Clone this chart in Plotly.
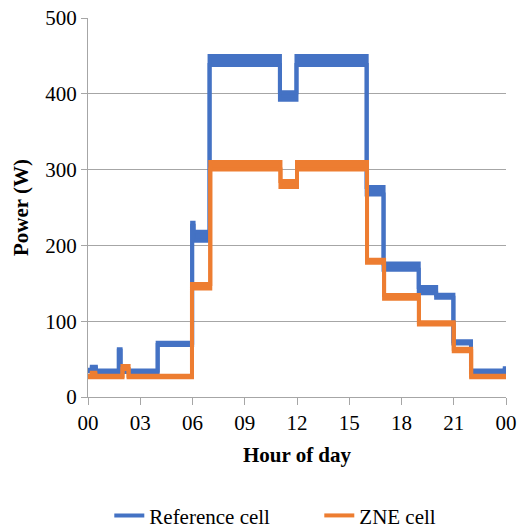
import plotly.graph_objects as go

# Reference cell: segment start hour, level (W), half-range of noise band (W)
ref_start = [0.00, 0.22, 0.45, 1.77, 1.87, 4.00, 5.98, 6.06, 6.98, 11.02, 11.97, 16.00, 16.97, 18.99, 19.99, 20.98, 21.99, 23.93, 24.0]
ref_level = [35, 39, 34, 62, 34, 70, 228, 212, 444, 397, 444, 272, 172, 141, 133, 72, 34, 37, 37]
ref_amp   = [1, 1, 1, 1, 1, 1.5, 2, 6, 6, 5, 6, 5, 4, 4, 2, 1.5, 1, 1, 1]

# ZNE cell
zne_start = [0.00, 0.22, 0.42, 1.98, 2.33, 5.97, 7.02, 11.05, 12.00, 16.02, 17.00, 19.00, 21.00, 22.00, 24.0]
zne_level = [27, 31, 27, 39, 27, 146, 305, 281, 305, 179, 132, 97, 62, 27, 27]
zne_amp   = [1, 1, 1, 2, 1, 3, 5, 4, 5, 2, 2.5, 1.5, 1.5, 1, 1]

x_tickvals = [0, 3, 6, 9, 12, 15, 18, 21, 24]
x_ticktext = ["00", "03", "06", "09", "12", "15", "18", "21", "00"]
y_tickvals = [0, 100, 200, 300, 400, 500]

series = [
    ("Reference cell", "#4472C4", ref_start, ref_level, ref_amp),
    ("ZNE cell", "#ED7D31", zne_start, zne_level, zne_amp),
]

fig = go.Figure()
for name, color, xs, lv, amp in series:
    lower = [l - a for l, a in zip(lv, amp)]
    upper = [l + a for l, a in zip(lv, amp)]
    fig.add_trace(go.Scatter(x=xs, y=lower, mode="lines", name=name,
                             line=dict(color=color, width=4, shape="hv"),
                             showlegend=True))
    fig.add_trace(go.Scatter(x=xs, y=upper, mode="lines", name=name,
                             line=dict(color=color, width=4, shape="hv"),
                             fill="tonexty", fillcolor=color, showlegend=False))

FONT = "Times New Roman, Liberation Serif, serif"
tf = dict(family=FONT, size=21, color="black")
fig.update_layout(
    width=518, height=529,
    margin=dict(l=88, r=12, t=18, b=132),
    paper_bgcolor="white", plot_bgcolor="white",
    font=tf,
    showlegend=True,
    legend=dict(orientation="h", xref="container", x=0.211, xanchor="left",
                yref="container", y=0.025, yanchor="middle",
                font=tf, traceorder="normal", entrywidth=165, entrywidthmode="pixels"),
    xaxis=dict(range=[0, 24], tickvals=x_tickvals, ticktext=x_ticktext,
               tickfont=tf, automargin=False,
               showgrid=False, showline=True, linecolor="#A6A6A6", linewidth=1.3,
               ticks="outside", ticklen=7, tickcolor="#A6A6A6", tickwidth=1.3,
               zeroline=False,
               title=dict(text="<b>Hour of day</b>", font=tf, standoff=12)),
    yaxis=dict(range=[0, 500], tickvals=y_tickvals, tickfont=tf, automargin=False,
               showgrid=True, gridcolor="#A6A6A6", gridwidth=1.3,
               showline=True, linecolor="#A6A6A6", linewidth=1.3,
               ticks="outside", ticklen=6, tickcolor="#A6A6A6", tickwidth=1.3,
               zeroline=False,
               title=dict(text="<b>Power (W)</b>", font=tf, standoff=10)),
)

fig.write_html("out.html")
